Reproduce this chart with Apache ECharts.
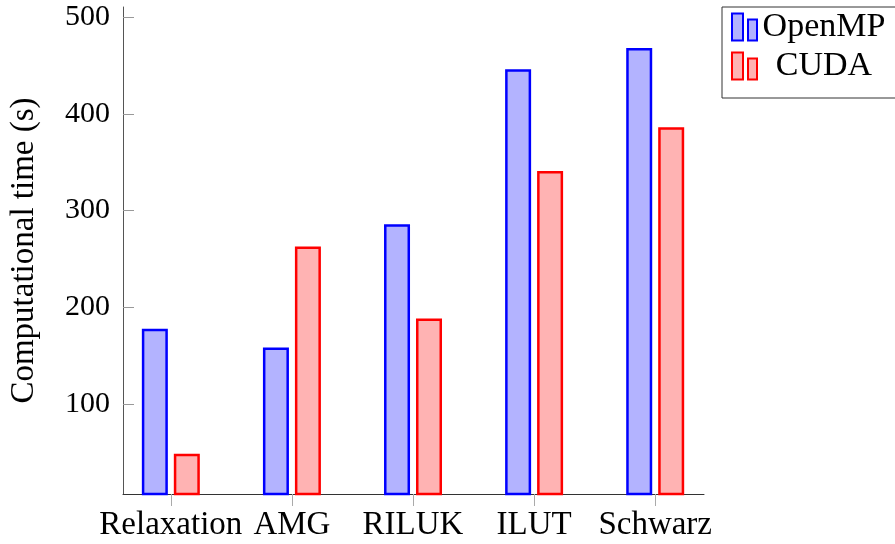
<!DOCTYPE html>
<html>
<head>
<meta charset="utf-8">
<script src="https://cdn.jsdelivr.net/npm/echarts@6/dist/echarts.min.js"></script>
<style>html,body{margin:0;padding:0;background:#fff;}#c{width:895px;height:544px;}</style>
</head>
<body>
<div id="c"></div>
<script>
const categories = ['Relaxation', 'AMG', 'RILUK', 'ILUT', 'Schwarz'];
const openmpValues = [178, 158.5, 286, 446, 468];
const cudaValues = [49, 263, 188.5, 341, 386];
const yTicks = [100, 200, 300, 400, 500];
const seriesNames = ['OpenMP', 'CUDA'];

const FONT = '"Liberation Serif", "DejaVu Serif", serif';
const chart = echarts.init(document.getElementById('c'), null, {renderer: 'canvas'});
const catIdx = categories.map((c, i) => i);

const option = {
  animation: false,
  backgroundColor: '#fff',
  grid: {left: 121, right: 191, top: 7, bottom: 50},
  xAxis: {
    type: 'value',
    min: -0.395,
    max: 4.403,
    splitLine: {show: false},
    axisLine: {show: true, onZero: false, lineStyle: {color: '#333', width: 1}},
    axisTick: {show: true, inside: false, length: 12, customValues: catIdx, lineStyle: {color: '#aaa', width: 1}},
    axisLabel: {
      customValues: catIdx,
      formatter: v => categories[Math.round(v)] || '',
      fontFamily: FONT, fontSize: 33, color: '#000', margin: 15
    }
  },
  yAxis: {
    type: 'value',
    min: 7.3,
    max: 510.3,
    name: 'Computational time (s)',
    nameLocation: 'middle',
    nameGap: 82,
    nameTextStyle: {fontFamily: FONT, fontSize: 33, color: '#000'},
    splitLine: {show: false},
    axisLine: {show: true, onZero: false, lineStyle: {color: '#555', width: 1}},
    axisTick: {show: true, inside: true, length: 11, customValues: yTicks, lineStyle: {color: '#999', width: 1}},
    axisLabel: {customValues: yTicks, fontFamily: FONT, fontSize: 30, color: '#000', margin: 13}
  },
  legend: {
    orient: 'vertical',
    left: 722,
    top: 7,
    padding: [3, 10, 15, 9],
    itemGap: 5,
    itemWidth: 25,
    itemHeight: 27,
    borderColor: '#333',
    borderWidth: 1,
    icon: 'path://M0,0H11V27H0Z M16,6H25V27H16Z',
    data: seriesNames,
    formatter: n => '{a|' + n + '}',
    textStyle: {
      rich: {a: {fontFamily: FONT, fontSize: 34, color: '#000', width: 124, align: 'center', lineHeight: 27}}
    }
  },
  series: [
    {
      name: seriesNames[0], type: 'bar', barWidth: 26, barGap: '23%',
      itemStyle: {color: '#b3b3ff', borderColor: '#0000ff', borderWidth: 2.5},
      data: openmpValues.map((v, i) => [catIdx[i], v])
    },
    {
      name: seriesNames[1], type: 'bar', barWidth: 26, barGap: '23%',
      itemStyle: {color: '#ffb3b3', borderColor: '#ff0000', borderWidth: 2.5},
      data: cudaValues.map((v, i) => [catIdx[i], v])
    }
  ]
};
chart.setOption(option);
</script>
</body>
</html>
